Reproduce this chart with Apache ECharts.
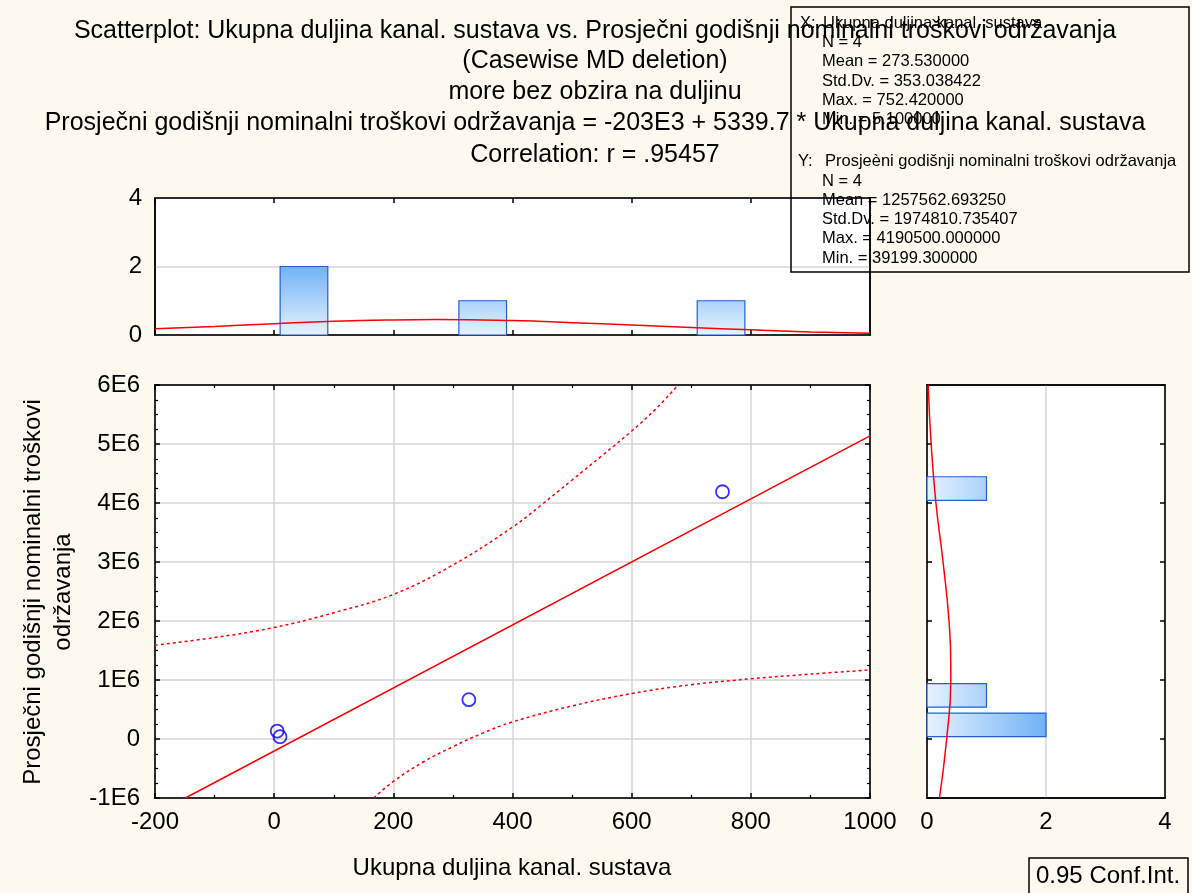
<!DOCTYPE html>
<html>
<head>
<meta charset="utf-8">
<script src="https://cdn.jsdelivr.net/npm/echarts@6/dist/echarts.min.js"></script>
<style>
  html, body { margin: 0; padding: 0; background: #fdf9ef; }
  #chart { width: 1192px; height: 893px; }
</style>
</head>
<body>
<div id="chart"></div>
<script>
// scatter points (x = Ukupna duljina, y = troškovi)
const pointX = [5.1, 9.8, 326.8, 752.42]
const pointY = [133800, 39199.3, 666751, 4190500]

// regression line and 0.95 conf. band
const fitX = [-149, 1000]
const fitY = [-1000000, 5137000]
const upperX = [-200, -100, 0, 100, 200, 300, 400, 450, 500, 550, 600, 640, 678]
const upperY = [1590000, 1720000, 1890000, 2140000, 2450000, 2950000, 3590000, 3980000, 4390000, 4800000, 5220000, 5590000, 6000000]
const lowerX = [167, 200, 250, 300, 350, 400, 500, 600, 700, 800, 900, 1000]
const lowerY = [-1000000, -720000, -390000, -130000, 100000, 290000, 560000, 770000, 920000, 1020000, 1100000, 1170000]

// top histogram (x bins) and fitted normal curve
const topBinCenters = [50, 350, 750]
const topCounts = [2, 1, 1]
const topBinWidth = 80
const topCurveX = [-200, -100, 0, 100, 200, 273, 400, 500, 600, 700, 800, 900, 1000]
const topCurveY = [0.18, 0.25, 0.33, 0.40, 0.44, 0.45, 0.42, 0.36, 0.29, 0.22, 0.15, 0.09, 0.05]

// right histogram (y bins) and fitted normal curve
const rightBinCenters = [240000, 740000, 4245000]
const rightCounts = [2, 1, 1]
const rightBinHeight = 400000
const rightCurveY = [-1000000, 0, 1000000, 1250000, 2000000, 3000000, 4000000, 5000000, 6000000]
const rightCurveX = [0.21, 0.33, 0.40, 0.40, 0.37, 0.27, 0.15, 0.07, 0.02]

const statsX = ['N = 4', 'Mean = 273.530000', 'Std.Dv. = 353.038422', 'Max. = 752.420000', 'Min. = 5.100000']
const statsY = ['N = 4', 'Mean = 1257562.693250', 'Std.Dv. = 1974810.735407', 'Max. = 4190500.000000', 'Min. = 39199.300000']

const titleLines = [
  'Scatterplot: Ukupna duljina kanal. sustava vs. Prosječni godišnji nominalni troškovi održavanja',
  '(Casewise MD deletion)',
  'more bez obzira na duljinu',
  'Prosječni godišnji nominalni troškovi održavanja = -203E3 + 5339.7 * Ukupna duljina kanal. sustava',
  'Correlation: r = .95457'
]

const FONT = '"Liberation Sans", Arial, sans-serif'
const chart = echarts.init(document.getElementById('chart'))

const barStroke = '#2060d0'
const topFill = new echarts.graphic.LinearGradient(0, 266, 0, 335, [
  { offset: 0, color: '#70b2f6' },
  { offset: 1, color: '#e6f2ff' }
], true)
const rightFill = new echarts.graphic.LinearGradient(927, 0, 1046, 0, [
  { offset: 0, color: '#e6f2ff' },
  { offset: 1, color: '#70b2f6' }
], true)

const labelStyle = { color: '#000', fontSize: 24, fontFamily: FONT, formatter: v => String(v) }

// axis drawing the frame side plus inward ticks
const tickAxis = (gridIndex, position, min, max, interval, extra) => Object.assign({
  type: 'value', gridIndex, position, min, max, interval,
  axisLine: { show: true, onZero: false, lineStyle: { color: '#000', width: 1.5 } },
  axisTick: { show: true, inside: true, length: 5, lineStyle: { color: '#000', width: 1.5 } },
  axisLabel: { show: false },
  splitLine: { show: false }
}, extra || {})

const mainMinor = (n) => ({ show: true, splitNumber: n, length: 3, lineStyle: { color: '#000', width: 1.2 } })
const greySplit = { show: true, lineStyle: { color: '#d6d6d6', width: 1.5 } }

const gridCommon = { show: true, backgroundColor: '#fff', borderColor: '#000', borderWidth: 1.5, containLabel: false }

const graphics = []
titleLines.forEach((t, i) => {
  graphics.push({
    type: 'text', x: 595, y: [31, 61, 92, 123, 155][i], z: 50,
    style: { text: t, fill: '#000', font: '25px ' + FONT, textAlign: 'center', textVerticalAlign: 'middle' }
  })
})
// stats box
graphics.push({ type: 'rect', z: 100, shape: { x: 791, y: 7, width: 398, height: 265 },
  style: { fill: 'none', stroke: '#000', lineWidth: 1.5 } })
const statText = (x, y, t) => ({ type: 'text', x, y, z: 101,
  style: { text: t, fill: '#000', font: '16.5px ' + FONT, textVerticalAlign: 'middle' } })
graphics.push(statText(800, 23, 'X:'))
graphics.push(statText(823, 23, 'Ukupna duljina kanal. sustava'))
statsX.forEach((t, i) => graphics.push(statText(822, 42.5 + i * 19.3, t)))
graphics.push(statText(798, 161, 'Y:'))
graphics.push(statText(825, 161, 'Prosjeèni godišnji nominalni troškovi održavanja'))
statsY.forEach((t, i) => graphics.push(statText(822, 181 + i * 19.3, t)))
// axis titles
graphics.push({ type: 'text', x: 48, y: 592, rotation: Math.PI / 2, z: 50,
  style: { text: 'Prosječni godišnji nominalni troškovi\nodržavanja', fill: '#000', font: '24px ' + FONT,
    textAlign: 'center', textVerticalAlign: 'middle', lineHeight: 30 } })
graphics.push({ type: 'text', x: 512, y: 868, z: 50,
  style: { text: 'Ukupna duljina kanal. sustava', fill: '#000', font: '24px ' + FONT,
    textAlign: 'center', textVerticalAlign: 'middle' } })
// conf. int. legend box
graphics.push({ type: 'rect', z: 50, shape: { x: 1029, y: 858, width: 159, height: 40 },
  style: { fill: 'none', stroke: '#000', lineWidth: 1.5 } })
graphics.push({ type: 'text', x: 1036, y: 876, z: 51,
  style: { text: '0.95 Conf.Int.', fill: '#000', font: '24px ' + FONT, textVerticalAlign: 'middle' } })

const option = {
  backgroundColor: '#fdf9ef',
  animation: false,
  grid: [
    Object.assign({ left: 155, top: 385, width: 715, height: 413 }, gridCommon),
    Object.assign({ left: 155, top: 198, width: 715, height: 137 }, gridCommon),
    Object.assign({ left: 927, top: 385, width: 238, height: 413 }, gridCommon)
  ],
  xAxis: [
    tickAxis(0, 'bottom', -200, 1000, 200, {
      axisLabel: Object.assign({ show: true, margin: 12 }, labelStyle),
      minorTick: mainMinor(2),
      splitLine: greySplit
    }),
    tickAxis(0, 'top', -200, 1000, 200, { minorTick: mainMinor(2) }),
    tickAxis(1, 'bottom', -200, 1000, 200),
    tickAxis(1, 'top', -200, 1000, 200),
    tickAxis(2, 'bottom', 0, 4, 2, {
      axisTick: { show: false },
      axisLabel: Object.assign({ show: true, margin: 12 }, labelStyle),
      splitLine: greySplit
    }),
    tickAxis(2, 'top', 0, 4, 2, { axisTick: { show: false } })
  ],
  yAxis: [
    tickAxis(0, 'left', -1000000, 6000000, 1000000, {
      axisLabel: Object.assign({}, labelStyle, { show: true, margin: 15,
        formatter: v => v === 0 ? '0' : (v / 1000000) + 'E6' }),
      minorTick: mainMinor(4),
      splitLine: greySplit
    }),
    tickAxis(0, 'right', -1000000, 6000000, 1000000, { minorTick: mainMinor(4) }),
    tickAxis(1, 'left', 0, 4, 2, {
      axisTick: { show: false },
      axisLabel: Object.assign({ show: true, margin: 13 }, labelStyle),
      splitLine: greySplit
    }),
    tickAxis(1, 'right', 0, 4, 2, { axisTick: { show: false } }),
    tickAxis(2, 'left', -1000000, 6000000, 1000000),
    tickAxis(2, 'right', -1000000, 6000000, 1000000)
  ],
  series: [
    {
      type: 'line', xAxisIndex: 0, yAxisIndex: 0,
      data: fitX.map((x, i) => [x, fitY[i]]),
      showSymbol: false, lineStyle: { color: '#ff0000', width: 1.5 }, z: 3
    },
    {
      type: 'line', xAxisIndex: 0, yAxisIndex: 0, smooth: 0.4,
      data: upperX.map((x, i) => [x, upperY[i]]),
      showSymbol: false, lineStyle: { color: '#ff0000', width: 1.5, type: [3, 3] }, z: 3
    },
    {
      type: 'line', xAxisIndex: 0, yAxisIndex: 0, smooth: 0.4,
      data: lowerX.map((x, i) => [x, lowerY[i]]),
      showSymbol: false, lineStyle: { color: '#ff0000', width: 1.5, type: [3, 3] }, z: 3
    },
    {
      type: 'scatter', xAxisIndex: 0, yAxisIndex: 0,
      data: pointX.map((x, i) => [x, pointY[i]]),
      symbol: 'circle', symbolSize: 13,
      itemStyle: { color: 'rgba(0,0,0,0)', borderColor: '#0000ff', borderWidth: 1.8 }, z: 4
    },
    {
      type: 'custom', xAxisIndex: 2, yAxisIndex: 2,
      data: topBinCenters.map((c, i) => [c, topCounts[i]]),
      renderItem: (params, api) => {
        const c = api.value(0), n = api.value(1)
        const p0 = api.coord([c - topBinWidth / 2, n])
        const p1 = api.coord([c + topBinWidth / 2, 0])
        return { type: 'rect', shape: { x: p0[0], y: p0[1], width: p1[0] - p0[0], height: p1[1] - p0[1] },
          style: { fill: topFill, stroke: barStroke, lineWidth: 1.2 } }
      }, z: 2
    },
    {
      type: 'line', xAxisIndex: 2, yAxisIndex: 2, smooth: true,
      data: topCurveX.map((x, i) => [x, topCurveY[i]]),
      showSymbol: false, lineStyle: { color: '#ff0000', width: 1.5 }, z: 3
    },
    {
      type: 'custom', xAxisIndex: 4, yAxisIndex: 4,
      data: rightCounts.map((n, i) => [n, rightBinCenters[i]]),
      renderItem: (params, api) => {
        const n = api.value(0), c = api.value(1)
        const p0 = api.coord([0, c + rightBinHeight / 2])
        const p1 = api.coord([n, c - rightBinHeight / 2])
        return { type: 'rect', shape: { x: p0[0], y: p0[1], width: p1[0] - p0[0], height: p1[1] - p0[1] },
          style: { fill: rightFill, stroke: barStroke, lineWidth: 1.2 } }
      }, z: 2
    },
    {
      type: 'line', xAxisIndex: 4, yAxisIndex: 4, smooth: true,
      data: rightCurveY.map((y, i) => [rightCurveX[i], y]),
      showSymbol: false, lineStyle: { color: '#ff0000', width: 1.5 }, z: 3
    }
  ],
  graphic: graphics
}

chart.setOption(option)
</script>
</body>
</html>
